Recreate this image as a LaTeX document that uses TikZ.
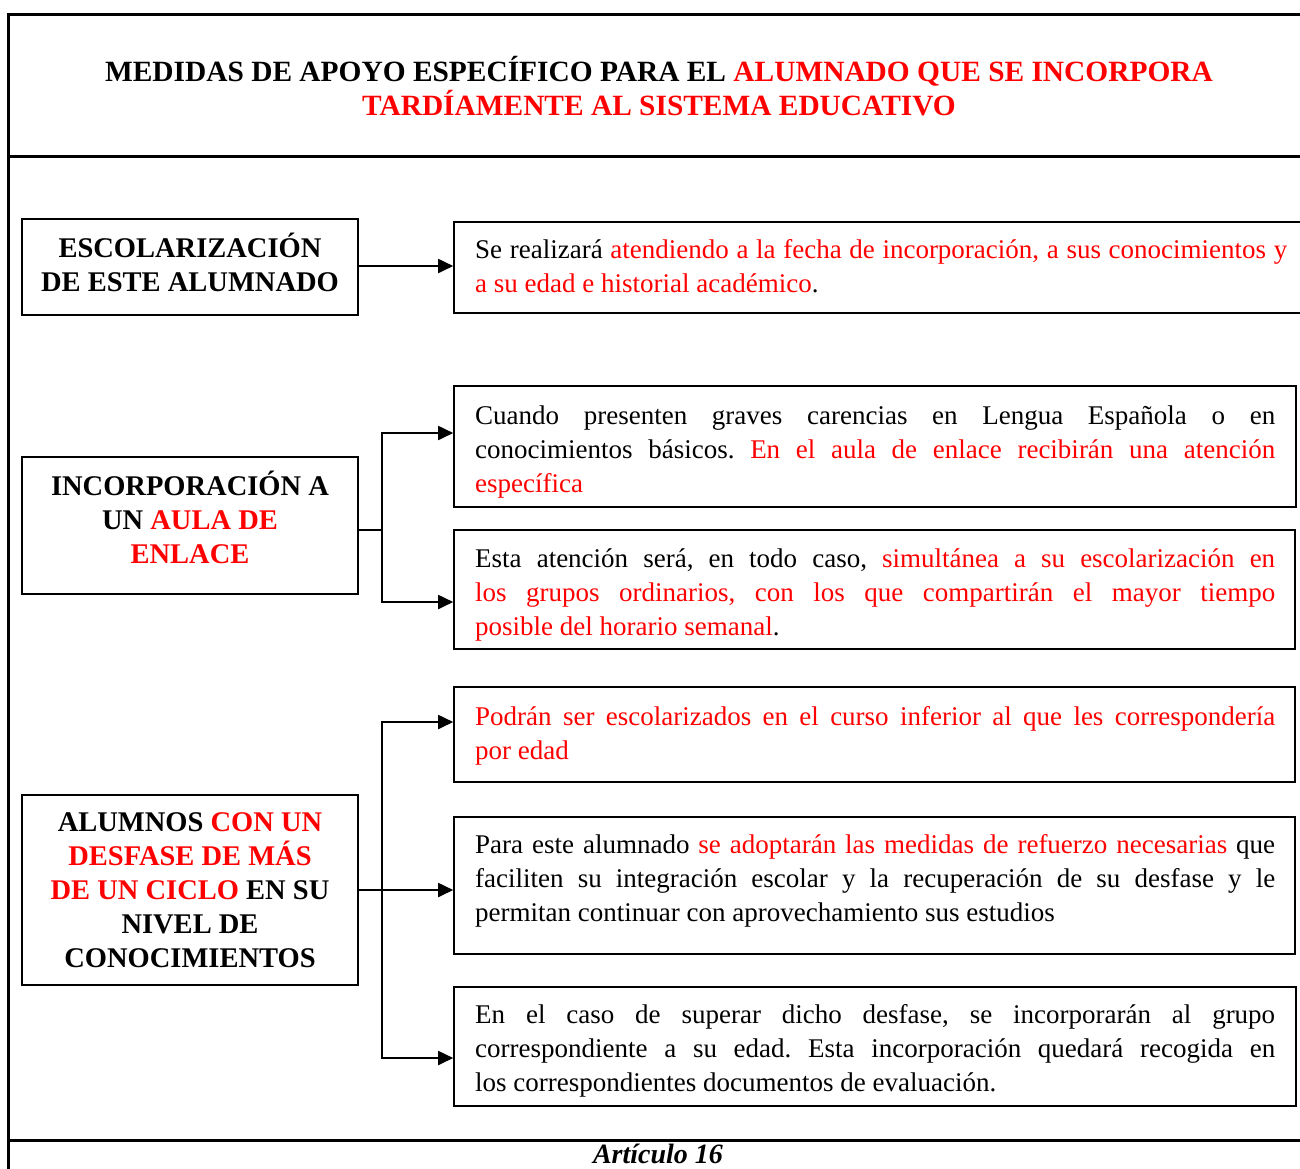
\documentclass[tikz,border=0pt]{standalone}
\usepackage{fontspec}
\setmainfont{Liberation Serif}
\usetikzlibrary{arrows.meta,fit}
\definecolor{rd}{RGB}{255,0,0}
\newcommand{\rt}[1]{\textcolor{rd}{#1}}
\frenchspacing
\begin{document}
\begin{tikzpicture}[x=1pt,y=-1pt,
  frame/.style={line width=3pt},
  lbox/.style={draw, line width=1.6pt, inner sep=0pt},
  rbox/.style={draw, line width=1.6pt, inner sep=0pt},
  titletext/.style={font=\fontsize{29.4}{34}\selectfont\bfseries, align=center, anchor=base, inner sep=0pt},
  ltext/.style={font=\fontsize{28.5}{34}\selectfont\bfseries, align=center, anchor=base, inner sep=0pt},
  rtext/.style={font=\fontsize{27}{34}\selectfont\frenchspacing, text width=800pt, align=justify, anchor=base west, inner sep=0pt},
  conn/.style={line width=1.8pt},
  arr/.style={conn, -{Triangle[length=15pt,width=14pt]}},
]
\useasboundingbox (0,0) rectangle (1300,1168);
% frame
\draw[frame] (1320,14) -- (8,14) -- (8,1180);
\draw[frame] (8,156) -- (1320,156);
\draw[frame] (8,1140) -- (1320,1140);
% title (base anchor = last line)
\node[titletext] (title) at (659,115) {MEDIDAS DE APOYO ESPECÍFICO PARA EL \rt{ALUMNADO QUE SE INCORPORA}\\\rt{TARDÍAMENTE AL SISTEMA EDUCATIVO}};
% left boxes
\node[lbox, fit={(22,219) (358,315)}] (L1) {};
\node[lbox, fit={(22,457) (358,594)}] (L2) {};
\node[lbox, fit={(22,795) (358,985)}] (L3) {};
\node[ltext] (L1t) at (190,291) {ESCOLARIZACIÓN\\DE ESTE ALUMNADO};
\node[ltext] (L2t) at (190,563) {INCORPORACIÓN A\\UN \rt{AULA DE}\\\rt{ENLACE}};
\node[ltext] (L3t) at (190,967) {ALUMNOS \rt{CON UN}\\\rt{DESFASE DE MÁS}\\\rt{DE UN CICLO} EN SU\\NIVEL DE\\CONOCIMIENTOS};
% right boxes
\node[rbox, fit={(454,222) (1320,313)}] (R1) {};
\node[rbox, fit={(454,386) (1296,507)}] (R2) {};
\node[rbox, fit={(454,530) (1295,649)}] (R3) {};
\node[rbox, fit={(454,687) (1295,782)}] (R4) {};
\node[rbox, fit={(454,817) (1295,954)}] (R5) {};
\node[rbox, fit={(454,987) (1296,1106)}] (R6) {};
\node[rtext, text width=812pt] (R1t) at (475,258) {Se realizará \rt{atendiendo a la fecha de incorporación, a sus conocimientos y\linebreak a su edad e historial académico}.};
\node[rtext] (R2t) at (475,424) {Cuando presenten graves carencias en Lengua Española o en\linebreak conocimientos básicos. \rt{En el aula de enlace recibirán una atención\linebreak específica}};
\node[rtext] (R3t) at (475,567) {Esta atención será, en todo caso, \rt{simultánea a su escolarización en\linebreak los grupos ordinarios, con los que compartirán el mayor tiempo\linebreak posible del horario semanal}.};
\node[rtext] (R4t) at (475,725) {\rt{Podrán ser escolarizados en el curso inferior al que les correspondería\linebreak por edad}};
\node[rtext] (R5t) at (475,853) {Para este alumnado \rt{se adoptarán las medidas de refuerzo necesarias} que\linebreak faciliten su integración escolar y la recuperación de su desfase y le\linebreak permitan continuar con aprovechamiento sus estudios};
\node[rtext] (R6t) at (475,1023) {En el caso de superar dicho desfase, se incorporarán al grupo\linebreak correspondiente a su edad. Esta incorporación quedará recogida en\linebreak los correspondientes documentos de evaluación.};
% connectors
\coordinate (J1) at (382,530);
\coordinate (J2) at (382,890);
\draw[arr] (L1.east |- 0,266) -- (R1.west |- 0,266);
\draw[conn] (L2.east |- J1) -- (J1);
\draw[arr] (J1) |- (R2.west |- 0,433);
\draw[arr] (J1) |- (R3.west |- 0,602);
\draw[arr] (L3.east |- J2) -- (R5.west |- J2);
\draw[arr] (J2) |- (R4.west |- 0,722);
\draw[arr] (J2) |- (R6.west |- 0,1058);
% footer
\node[font=\fontsize{28}{34}\selectfont\bfseries\itshape, anchor=base, inner sep=0pt] (art) at (658,1163) {Artículo 16};
\end{tikzpicture}
\end{document}
